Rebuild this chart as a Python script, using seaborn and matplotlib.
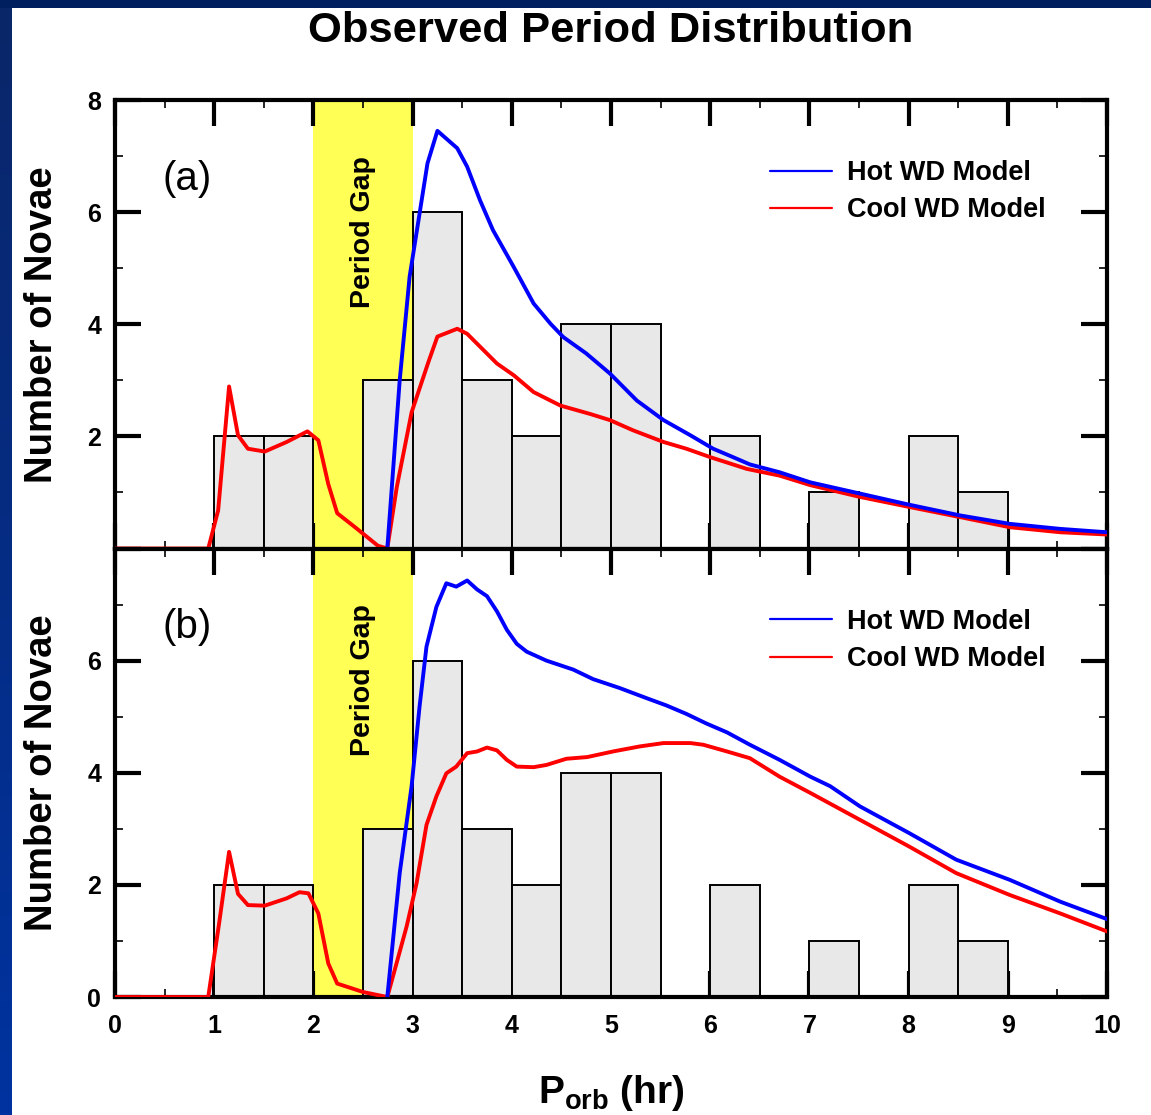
import numpy as np
import matplotlib
matplotlib.use("Agg")
import matplotlib.pyplot as plt
from matplotlib.lines import Line2D
from matplotlib.ticker import MultipleLocator
from matplotlib.colors import LinearSegmentedColormap
import seaborn as sns

# ---------------- data ----------------
bin_edges = [1.0, 1.5, 2.0, 2.5, 3.0, 3.5, 4.0, 4.5, 5.0, 5.5, 6.0, 6.5, 7.0, 7.5, 8.0, 8.5, 9.0]
obs_counts = [2, 2, 0, 3, 6, 3, 2, 4, 4, 0, 2, 0, 1, 0, 2, 1]

# panel (a)
hot_a_x = [2.745, 2.87, 2.97, 3.06, 3.15, 3.25, 3.45, 3.55, 3.68, 3.81, 4.02, 4.22, 4.39, 4.52,
           4.75, 4.99, 5.26, 5.53, 5.80, 6.03, 6.23, 6.40, 6.70, 7.01, 7.51, 8.01, 8.52, 9.02, 9.53, 10.0]
hot_a_y = [0, 3.0, 4.85, 5.86, 6.87, 7.45, 7.14, 6.81, 6.21, 5.68, 5.02, 4.37, 4.01, 3.77,
           3.48, 3.12, 2.64, 2.29, 2.02, 1.78, 1.63, 1.50, 1.36, 1.18, 0.98, 0.78, 0.59, 0.44, 0.35, 0.29]
cool_a_x = [0, 0.94, 1.04, 1.15, 1.24, 1.34, 1.51, 1.73, 1.94, 2.05, 2.15, 2.24, 2.42, 2.65, 2.745,
            2.84, 2.99, 3.16, 3.25, 3.45, 3.55, 3.85, 4.02, 4.22, 4.49, 4.79, 4.99, 5.22, 5.53, 5.76,
            6.0, 6.37, 6.70, 7.01, 7.51, 8.01, 8.52, 9.02, 9.53, 10.0]
cool_a_y = [0, 0, 0.68, 2.89, 2.02, 1.78, 1.73, 1.90, 2.09, 1.93, 1.15, 0.63, 0.38, 0.05, 0,
            1.09, 2.43, 3.33, 3.78, 3.92, 3.83, 3.30, 3.09, 2.79, 2.55, 2.40, 2.29, 2.11, 1.90, 1.78,
            1.63, 1.42, 1.30, 1.13, 0.92, 0.74, 0.56, 0.38, 0.29, 0.25]

# panel (b)
hot_b_x = [2.745, 2.87, 2.99, 3.07, 3.14, 3.24, 3.34, 3.44, 3.55, 3.65, 3.75, 3.85, 3.95, 4.05,
           4.15, 4.35, 4.62, 4.82, 5.09, 5.36, 5.56, 5.76, 5.96, 6.17, 6.40, 6.70, 7.01, 7.21,
           7.51, 8.01, 8.48, 9.02, 9.53, 10.0]
hot_b_y = [0, 2.21, 3.76, 5.18, 6.25, 6.96, 7.38, 7.32, 7.43, 7.27, 7.15, 6.88, 6.55, 6.30,
           6.16, 6.0, 5.84, 5.67, 5.51, 5.33, 5.20, 5.05, 4.88, 4.72, 4.50, 4.23, 3.93, 3.76,
           3.40, 2.92, 2.45, 2.09, 1.70, 1.39]
cool_b_x = [0, 0.94, 1.05, 1.15, 1.24, 1.34, 1.51, 1.73, 1.86, 1.95, 2.05, 2.15, 2.24, 2.50, 2.745,
            2.94, 3.04, 3.14, 3.24, 3.34, 3.44, 3.55, 3.65, 3.75, 3.85, 3.95, 4.05, 4.22, 4.35,
            4.55, 4.76, 5.02, 5.29, 5.53, 5.80, 5.93, 6.17, 6.40, 6.70, 7.01, 7.51, 8.01, 8.48,
            9.02, 9.53, 10.0]
cool_b_y = [0, 0, 1.32, 2.59, 1.84, 1.64, 1.63, 1.76, 1.87, 1.85, 1.49, 0.60, 0.24, 0.09, 0,
            1.26, 2.03, 3.07, 3.58, 3.99, 4.11, 4.35, 4.38, 4.45, 4.40, 4.23, 4.11, 4.10, 4.14,
            4.25, 4.28, 4.38, 4.47, 4.53, 4.53, 4.50, 4.38, 4.26, 3.93, 3.64, 3.16, 2.68, 2.21,
            1.82, 1.49, 1.17]

x_ticks = list(range(0, 11))
a_yticks = [0, 2, 4, 6, 8]
a_ylabels = ["", "2", "4", "6", "8"]
b_yticks = [0, 2, 4, 6, 8]
b_ylabels = ["0", "2", "4", "6", ""]

title = "Observed Period Distribution"
ylabel = "Number of Novae"
legend_labels = ["Hot WD Model", "Cool WD Model"]

# ---------------- style ----------------
sns.set_style("ticks")
plt.rcParams["font.family"] = ["Liberation Sans", "DejaVu Sans"]
plt.rcParams["font.weight"] = "bold"
plt.rcParams["mathtext.fontset"] = "custom"
plt.rcParams["mathtext.bf"] = "Liberation Sans:bold"
plt.rcParams["mathtext.rm"] = "Liberation Sans:bold"
for key in ["text.color", "axes.labelcolor", "xtick.color", "ytick.color", "axes.edgecolor"]:
    plt.rcParams[key] = "black"

HOT = "#0000ff"
COOL = "#ff0000"
GAP = "#ffff55"
BAR = "#e8e8e8"

fig, axes = plt.subplots(2, 1, figsize=(11.51, 11.15), dpi=100, sharex=True)
fig.patch.set_facecolor("white")
fig.subplots_adjust(left=0.0999, right=0.9618, top=0.9103, bottom=0.1058, hspace=0)

# decorative frame strips (left gradient and top band)
strip = fig.add_axes([0, 0, 12 / 1151, 1])
grad = np.linspace(0, 1, 256).reshape(-1, 1)
cmap = LinearSegmentedColormap.from_list("frame", ["#0033a0", "#0a2668"])
strip.imshow(grad, aspect="auto", cmap=cmap, origin="lower", extent=[0, 1, 0, 1])
strip.set_axis_off()
topband = fig.add_axes([0, 1 - 8 / 1115, 1, 8 / 1115])
topband.set_facecolor("#001f5f")
topband.set_xticks([]); topband.set_yticks([])
for s in topband.spines.values():
    s.set_visible(False)

centers = [(bin_edges[i] + bin_edges[i + 1]) / 2 for i in range(len(obs_counts))]

panels = [
    (axes[0], hot_a_x, hot_a_y, cool_a_x, cool_a_y, a_yticks, a_ylabels, "(a)"),
    (axes[1], hot_b_x, hot_b_y, cool_b_x, cool_b_y, b_yticks, b_ylabels, "(b)"),
]

for ax, hx, hy, cx, cy, yt, yl, tag in panels:
    ax.axvspan(2.0, 3.0, color=GAP, lw=0, zorder=0)
    sns.histplot(x=centers, weights=obs_counts, bins=bin_edges, ax=ax,
                 color=BAR, edgecolor="black", linewidth=1.4, alpha=1, zorder=1)
    sns.lineplot(x=cx, y=cy, ax=ax, color=COOL, lw=2.8, sort=False, estimator=None,
                 legend=False, zorder=3)
    sns.lineplot(x=hx, y=hy, ax=ax, color=HOT, lw=2.8, sort=False, estimator=None,
                 legend=False, zorder=4)
    ax.set_xlim(0, 10)
    ax.set_ylim(0, 8)
    ax.set_yticks(yt, labels=yl, fontsize=18, fontweight="bold")
    ax.xaxis.set_minor_locator(MultipleLocator(0.5))
    ax.yaxis.set_minor_locator(MultipleLocator(1))
    ax.tick_params(which="both", direction="in", top=True, right=True, bottom=True, left=True,
                   color="black", labelcolor="black")
    ax.tick_params(which="major", length=19, width=3)
    ax.tick_params(which="minor", length=6, width=1.2)
    ax.tick_params(axis="y", which="major", pad=10)
    ax.tick_params(axis="x", which="major", pad=12)
    for s in ax.spines.values():
        s.set_visible(True)
        s.set_linewidth(3)
        s.set_color("black")
    ax.set_ylabel(ylabel, fontsize=27.5, fontweight="bold", color="black")
    ax.yaxis.set_label_coords(-0.055, 0.5)
    ax.set_xlabel("")
    ax.text(0.48, 6.6, tag, fontsize=29, fontweight="normal", ha="left", va="center",
            color="black")
    ax.text(2.5, 5.65, "Period Gap", rotation=90, fontsize=20.5, fontweight="bold",
            ha="center", va="center", zorder=5, color="black")
    handles = [Line2D([], [], color=HOT, lw=1.6, label=legend_labels[0]),
               Line2D([], [], color=COOL, lw=1.6, label=legend_labels[1])]
    leg = ax.legend(handles=handles, loc="upper left", bbox_to_anchor=(0.66, 0.866),
                    frameon=False, prop={"size": 19.5, "weight": "bold"}, handlelength=2.3,
                    handletextpad=0.55, labelspacing=0.42, borderpad=0, borderaxespad=0)
    for t in leg.get_texts():
        t.set_color("black")

axes[1].set_xticks(x_ticks, labels=[str(v) for v in x_ticks], fontsize=18, fontweight="bold")
axes[0].tick_params(labelbottom=False)

fig.text(611 / 1151, 1 - 42 / 1115, title, fontsize=31.3, fontweight="bold",
         ha="center", va="baseline", color="black")
fig.text(611 / 1151, 1 - 1103 / 1115, r"$\mathbf{P}_{\mathbf{orb}}$ (hr)", fontsize=28,
         fontweight="bold", ha="center", va="baseline", color="black")

fig.savefig("out.png", dpi=100, facecolor=fig.get_facecolor())
